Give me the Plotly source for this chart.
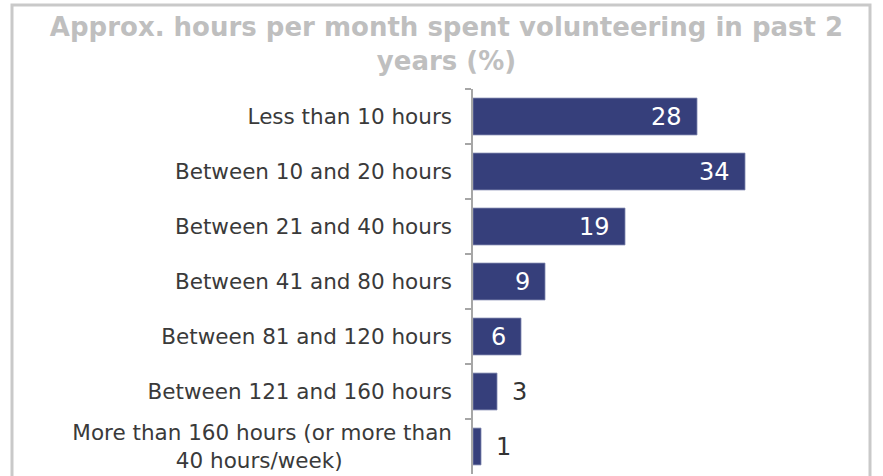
import plotly.graph_objects as go

NBSP = "\u00a0"

categories = [
    "Less than 10 hours",
    "Between 10 and 20 hours",
    "Between 21 and 40 hours",
    "Between 41 and 80 hours",
    "Between 81 and 120 hours",
    "Between 121 and 160 hours",
    "More than 160 hours (or more than<br>40 hours/week)" + NBSP * 16,
]
values = [28, 34, 19, 9, 6, 3, 1]

BAR_COLOR = "#363F7B"
W, H = 883, 476
ML, MR, MT, MB = 473, 10, 89, 2

fig = go.Figure()
fig.add_trace(go.Bar(
    x=values,
    y=categories,
    orientation="h",
    marker=dict(color=BAR_COLOR, line=dict(color="#7F86AE", width=0.8)),
    hoverinfo="skip",
))

# value labels: inside the bar for long bars, outside for short ones
for cat, v in zip(categories, values):
    inside = v >= 5
    fig.add_annotation(
        x=v, y=cat, xref="x", yref="y",
        text=str(v),
        showarrow=False,
        xanchor="right" if inside else "left",
        xshift=-13 if inside else 13,
        font=dict(family="DejaVu Sans", size=24,
                  color="white" if inside else "#333333"),
    )

# light frame around the chart
pw = W - ML - MR
ph = H - MT - MB
fig.add_shape(
    type="rect", xref="paper", yref="paper",
    x0=(12 - ML) / pw, x1=(870 - ML) / pw,
    y0=-0.2, y1=1 + (MT - 5) / ph,
    line=dict(color="#C9C9C9", width=3),
    fillcolor="rgba(0,0,0,0)",
    layer="below",
)

fig.update_layout(
    width=W, height=H,
    margin=dict(l=ML, r=MR, t=MT, b=MB),
    paper_bgcolor="white",
    plot_bgcolor="white",
    bargap=0.33,
    showlegend=False,
    title=dict(
        text="Approx. hours per month spent volunteering in past 2<br>years (%)",
        x=0.5 + 5 / W, xref="container", xanchor="center",
        y=1 - 36 / H, yref="container", yanchor="middle",
        font=dict(family="DejaVu Sans", size=26, color="#BFBFBF", weight="bold"),
    ),
    font=dict(family="DejaVu Sans", color="#3A3A3A"),
    xaxis=dict(
        range=[0, 50],
        visible=False,
        showgrid=False,
        zeroline=False,
    ),
    yaxis=dict(
        autorange="reversed",
        showline=True,
        linecolor="#A6A6A6",
        linewidth=1.5,
        ticks="outside",
        tickson="boundaries",
        ticklen=6,
        tickcolor="#A6A6A6",
        tickwidth=1.5,
        ticklabelstandoff=15,
        tickfont=dict(family="DejaVu Sans", size=21.5, color="#3A3A3A"),
        showgrid=False,
    ),
)

fig.write_html("out.html", config={"displayModeBar": False},
               post_script="document.body.style.margin='0';")
